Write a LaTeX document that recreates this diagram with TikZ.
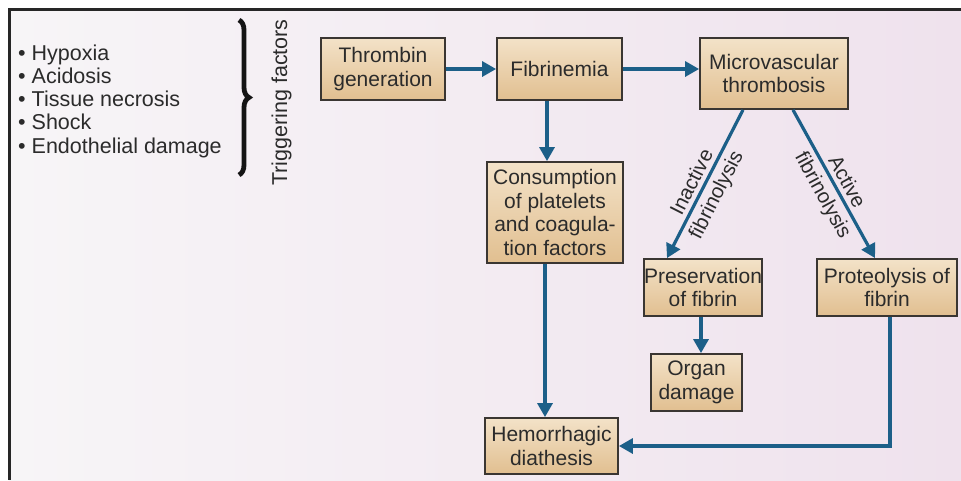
\documentclass[tikz,border=0pt]{standalone}
\usepackage{fontspec}
\setmainfont{Liberation Sans}
\usetikzlibrary{arrows.meta,calc,decorations.pathreplacing}
\definecolor{bgL}{HTML}{F7F5F7}
\definecolor{bgR}{HTML}{EFE2ED}
\definecolor{boxL}{HTML}{F3E2C8}
\definecolor{boxD}{HTML}{E1BF90}
\definecolor{boxEdge}{HTML}{3A3632}
\definecolor{arrowBlue}{HTML}{1C5F88}
\definecolor{txt}{HTML}{2B2B2B}
\begin{document}
\begin{tikzpicture}[x=1pt,y=-1pt,
  box/.style={draw=boxEdge, line width=1.8pt, top color=boxL, bottom color=boxD, inner sep=0pt, align=center, text=txt, font=\fontsize{21}{23.7}\selectfont},
  arr/.style={draw=arrowBlue, line width=3.2pt, -{Triangle[length=14pt,width=15pt]}},
  lbl/.style={text=txt, align=center, font=\fontsize{20.5}{27}\selectfont, inner sep=0pt},
  item/.style={anchor=base west, text=txt, inner sep=0pt, font=\fontsize{21.5}{23.5}\selectfont}]
\useasboundingbox (0,0) rectangle (961,480);
\fill[white] (0,0) rectangle (961,480);
\shade[left color=bgL, right color=bgR] (9,9) rectangle (961,480);
\draw[line width=3pt, color=black!85] (9,480) -- (9,9) -- (961,9);

% left list
\node[item] (l1) at (18,60) {• Hypoxia};
\node[item] (l2) at (18,83.25) {• Acidosis};
\node[item] (l3) at (18,106.5) {• Tissue necrosis};
\node[item] (l4) at (18,129.75) {• Shock};
\node[item] (l5) at (18,153) {• Endothelial damage};
\draw[decorate, decoration={brace, amplitude=10pt}, line width=4.8pt, color=black!92] (239,20) -- (239,175);
\node[rotate=90, anchor=base, text=txt, inner sep=0pt, font=\fontsize{21.5}{24}\selectfont] (trig) at (287,102.5) {Triggering factors};

% boxes
\node[box, minimum width=124pt, minimum height=62pt] (thr) at (383,69) {Thrombin\\generation};
\node[box, minimum width=125pt, minimum height=62pt] (fib) at (559.5,69) {Fibrinemia};
\node[box, minimum width=148pt, minimum height=71pt] (mic) at (774,73.5) {Microvascular\\thrombosis};
\node[box, minimum width=136pt, minimum height=101pt] (con) at (555,212.5) {Consumption\\of platelets\\and coagula-\\tion factors};
\node[box, minimum width=118pt, minimum height=57pt] (pre) at (703,287.5) {Preservation\\of fibrin};
\node[box, minimum width=140pt, minimum height=57pt] (pro) at (887,287.5) {Proteolysis of\\fibrin};
\node[box, minimum width=91pt, minimum height=57pt] (org) at (696.5,382.5) {Organ\\damage};
\node[box, minimum width=133pt, minimum height=56pt] (hem) at (551.5,446) {Hemorrhagic\\diathesis};

% arrows
\draw[arr] (thr.east) -- (fib.west);
\draw[arr] (fib.east) -- (fib.east -| mic.west);
\coordinate (a1) at ($(fib.south)+(-12.5,0)$);
\draw[arr] (a1) -- (a1 |- con.north);
\coordinate (a2) at ($(con.south)+(-10,0)$);
\draw[arr] (a2) -- (a2 |- hem.north);
\draw[arr] ($(mic.south)+(-31,0)$) -- ($(pre.north)+(-36,0)$);
\draw[arr] ($(mic.south)+(19,0)$) -- ($(pro.north)+(-12,0)$);
\coordinate (a3) at ($(pre.south)+(-2,0)$);
\draw[arr] (a3) -- (a3 |- org.north);
\draw[arr] ($(pro.south)+(3,0)$) |- (hem.east);

% arrow labels
\node[lbl, rotate=63.1] (inl) at (705,189) {Inactive\\fibrinolysis};
\node[lbl, rotate=-61.3] (act) at (834,189) {Active\\fibrinolysis};
\end{tikzpicture}
\end{document}
